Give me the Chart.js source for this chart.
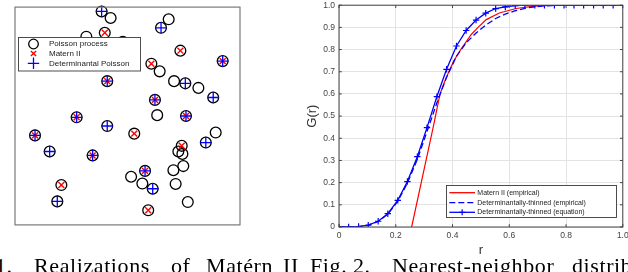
<!DOCTYPE html>
<html>
<head>
<meta charset="utf-8">
<script src="https://cdn.jsdelivr.net/npm/chart.js@4.4.1/dist/chart.umd.min.js"></script>
<style>
html,body{margin:0;padding:0;background:#fff;}
#wrap{position:relative;width:628px;height:272px;overflow:hidden;background:#fff;}
.cap{position:absolute;top:255px;font-family:"Liberation Serif","Times New Roman",serif;font-size:22px;line-height:22px;color:#000;white-space:nowrap;letter-spacing:0.6px;}
</style>
</head>
<body>
<div id="wrap">
  <canvas id="c1" width="250" height="232" style="position:absolute;left:0;top:0;"></canvas>
  <canvas id="c2" width="338" height="272" style="position:absolute;left:290px;top:0;"></canvas>
  <span class="cap" style="left:-5px">1.</span>
  <span class="cap" style="left:34px">Realizations</span>
  <span class="cap" style="left:171px">of</span>
  <span class="cap" style="left:206px">Matérn</span>
  <span class="cap" style="left:283px">II</span>
  <span class="cap" style="left:310px">Fig.</span>
  <span class="cap" style="left:353px">2.</span>
  <span class="cap" style="left:392px">Nearest-neighbor</span>
  <span class="cap" style="left:572px">distrib</span>
</div>
<script>
// ---------- Left panel: point realizations (unit square) ----------
const poissonX = [0.385,0.425,0.399,0.317,0.479,0.410,0.274,0.683,0.649,0.735,0.923,0.606,0.643,0.707,0.757,0.815,0.881,0.622,0.632,0.760,0.410,0.089,0.154,0.345,0.206,0.188,0.530,0.892,0.848,0.741,0.726,0.744,0.578,0.748,0.704,0.516,0.566,0.612,0.714,0.768,0.592];
const poissonY = [0.980,0.950,0.882,0.864,0.841,0.660,0.494,0.944,0.905,0.800,0.752,0.740,0.705,0.660,0.650,0.629,0.585,0.574,0.504,0.500,0.454,0.411,0.337,0.319,0.183,0.108,0.419,0.424,0.378,0.363,0.337,0.326,0.248,0.270,0.251,0.221,0.190,0.166,0.188,0.105,0.067];
const maternX = [0.399,0.410,0.274,0.735,0.923,0.606,0.622,0.760,0.089,0.345,0.206,0.530,0.741,0.578,0.592];
const maternY = [0.882,0.660,0.494,0.800,0.752,0.740,0.574,0.500,0.411,0.319,0.183,0.419,0.363,0.248,0.067];
const detX = [0.385,0.410,0.274,0.649,0.923,0.757,0.881,0.622,0.760,0.410,0.089,0.154,0.345,0.188,0.848,0.578,0.612];
const detY = [0.980,0.660,0.494,0.905,0.752,0.650,0.585,0.574,0.500,0.454,0.411,0.337,0.319,0.108,0.378,0.248,0.166];
const leftLegend = ["Poisson process","Matern II","Determinantal Poisson"];

// ---------- Right panel: nearest-neighbour distribution G(r) ----------
const rEq = [0,0.034,0.069,0.103,0.138,0.172,0.207,0.241,0.276,0.310,0.345,0.379,0.414,0.448,0.483,0.517,0.552,0.586,0.621,0.655,0.690,0.724,0.759,0.793,0.828,0.862,0.897,0.931,0.966,1.0];
const gEq = [0,0,0.002,0.008,0.026,0.060,0.120,0.205,0.317,0.448,0.588,0.711,0.816,0.886,0.933,0.964,0.985,0.992,0.998,1,1,1,1,1,1,1,1,1,1,1];
const gDetEmp = [0,0,0.002,0.008,0.025,0.058,0.116,0.198,0.305,0.430,0.560,0.675,0.770,0.830,0.875,0.910,0.940,0.960,0.975,0.986,0.993,0.997,0.999,1,1,1,1,1,1,1];
const rMat = [0.256,0.332,0.356,0.372,0.387,0.405,0.429,0.466,0.490,0.519,0.565,0.624,0.680,0.750,1.0];
const gMat = [0,0.450,0.600,0.655,0.700,0.750,0.800,0.868,0.900,0.935,0.965,0.985,0.995,1,1];
const xTicks = [0,0.2,0.4,0.6,0.8,1];
const yTicks = [0,0.1,0.2,0.3,0.4,0.5,0.6,0.7,0.8,0.9,1];
const rightLegend = ["Matern II (empirical)","Determinantally-thinned (empirical)","Determinantally-thinned (equation)"];

const zip = (xs, ys) => xs.map((x, i) => ({x: x, y: ys[i]}));

function plusMark(ctx, x, y, r){ctx.beginPath();ctx.moveTo(x-r,y);ctx.lineTo(x+r,y);ctx.moveTo(x,y-r);ctx.lineTo(x,y+r);ctx.stroke();}
function xMark(ctx, x, y, r){ctx.beginPath();ctx.moveTo(x-r,y-r);ctx.lineTo(x+r,y+r);ctx.moveTo(x-r,y+r);ctx.lineTo(x+r,y-r);ctx.stroke();}

const leftDecor = {
  id: 'leftDecor',
  afterDraw(chart){
    const ctx = chart.ctx, a = chart.chartArea;
    ctx.save();
    ctx.strokeStyle = '#7a7a7a'; ctx.lineWidth = 1.2;
    ctx.strokeRect(a.left, a.top, a.right - a.left, a.bottom - a.top);
    // legend
    ctx.fillStyle = '#fff'; ctx.fillRect(18.5, 37.5, 122, 33.5);
    ctx.strokeStyle = '#3a3a3a'; ctx.lineWidth = 0.9;
    ctx.strokeRect(18.5, 37.5, 122, 33.5);
    const ys = [44, 53.5, 63.3];
    ctx.strokeStyle = '#000'; ctx.lineWidth = 1.3;
    ctx.beginPath(); ctx.arc(33.5, ys[0], 4.8, 0, Math.PI*2); ctx.stroke();
    ctx.strokeStyle = '#ff0000'; ctx.lineWidth = 1.4; xMark(ctx, 33.5, ys[1], 2.6);
    ctx.strokeStyle = '#0000ff'; ctx.lineWidth = 1.3; plusMark(ctx, 33.5, ys[2], 5.7);
    ctx.fillStyle = '#222'; ctx.font = '8px "Liberation Sans", Arial, sans-serif';
    ctx.textBaseline = 'middle'; ctx.textAlign = 'left';
    leftLegend.forEach((t, i) => ctx.fillText(t, 49, ys[i]));
    ctx.restore();
  }
};

new Chart(document.getElementById('c1'), {
  type: 'scatter',
  data: {
    datasets: [
      {label: leftLegend[0], data: zip(poissonX, poissonY), pointStyle: 'circle', pointRadius: 5.4, pointBorderWidth: 1.3, pointBorderColor: '#000', pointBackgroundColor: 'rgba(0,0,0,0)', order: 3, clip: false},
      {label: leftLegend[1], data: zip(maternX, maternY), pointStyle: 'crossRot', pointRadius: 4.2, pointBorderWidth: 1.4, pointBorderColor: '#ff0000', pointBackgroundColor: 'rgba(0,0,0,0)', order: 2, clip: false},
      {label: leftLegend[2], data: zip(detX, detY), pointStyle: 'cross', pointRadius: 5.8, pointBorderWidth: 1.3, pointBorderColor: '#0000ff', pointBackgroundColor: 'rgba(0,0,0,0)', order: 1, clip: false}
    ]
  },
  options: {
    responsive: false, animation: false, events: [],
    layout: {padding: {left: 15, right: 10, top: 2.7, bottom: 4.7}},
    plugins: {legend: {display: false}, tooltip: {enabled: false}},
    scales: {
      x: {type: 'linear', min: 0, max: 1, display: false},
      y: {type: 'linear', min: 0, max: 1, display: false}
    }
  },
  plugins: [leftDecor]
});

const rightDecor = {
  id: 'rightDecor',
  afterDraw(chart){
    const ctx = chart.ctx, a = chart.chartArea;
    const sx = chart.scales.x, sy = chart.scales.y;
    ctx.save();
    ctx.strokeStyle = '#444'; ctx.lineWidth = 1;
    ctx.strokeRect(a.left, a.top, a.right - a.left, a.bottom - a.top);
    const tl = 2.8;
    ctx.beginPath();
    xTicks.forEach(v => { const p = sx.getPixelForValue(v); ctx.moveTo(p, a.bottom); ctx.lineTo(p, a.bottom - tl); ctx.moveTo(p, a.top); ctx.lineTo(p, a.top + tl); });
    yTicks.forEach(v => { const p = sy.getPixelForValue(v); ctx.moveTo(a.left, p); ctx.lineTo(a.left + tl, p); ctx.moveTo(a.right, p); ctx.lineTo(a.right - tl, p); });
    ctx.stroke();
    // legend (positions in canvas coords; canvas starts at x=290)
    const L = 446.5 - 290, T = 185.5, W = 170, H = 32;
    ctx.fillStyle = '#fff'; ctx.fillRect(L, T, W, H);
    ctx.strokeStyle = '#3a3a3a'; ctx.lineWidth = 0.9; ctx.strokeRect(L, T, W, H);
    const ys = [192.7, 202.6, 212.3];
    const x0 = 449.3 - 290, x1 = 475 - 290;
    ctx.lineWidth = 1.3;
    ctx.strokeStyle = '#ff0000'; ctx.beginPath(); ctx.moveTo(x0, ys[0]); ctx.lineTo(x1, ys[0]); ctx.stroke();
    ctx.strokeStyle = '#0000ff'; ctx.setLineDash([6,3]); ctx.beginPath(); ctx.moveTo(x0, ys[1]); ctx.lineTo(x1, ys[1]); ctx.stroke();
    ctx.setLineDash([]); ctx.beginPath(); ctx.moveTo(x0, ys[2]); ctx.lineTo(x1, ys[2]); ctx.stroke();
    ctx.lineWidth = 1.2; plusMark(ctx, (x0 + x1) / 2, ys[2], 3);
    ctx.fillStyle = '#222'; ctx.font = '7px "Liberation Sans", Arial, sans-serif';
    ctx.textBaseline = 'middle'; ctx.textAlign = 'left';
    rightLegend.forEach((t, i) => ctx.fillText(t, 477.3 - 290, ys[i]));
    ctx.restore();
  }
};

const tickFont = {family: '"Liberation Sans", Arial, sans-serif', size: 8.5};
new Chart(document.getElementById('c2'), {
  type: 'line',
  data: {
    datasets: [
      {label: rightLegend[2], data: zip(rEq, gEq), borderColor: '#0000ff', borderWidth: 1.3, pointStyle: 'cross', pointRadius: 3.2, pointBorderWidth: 1.2, pointBorderColor: '#0000ff', tension: 0, order: 1},
      {label: rightLegend[1], data: zip(rEq, gDetEmp), borderColor: '#0000ff', borderWidth: 1.3, borderDash: [6,3], pointRadius: 0, tension: 0, order: 2},
      {label: rightLegend[0], data: zip(rMat, gMat), borderColor: '#ff0000', borderWidth: 1.2, pointRadius: 0, tension: 0, order: 3}
    ]
  },
  options: {
    responsive: false, animation: false, events: [],
    layout: {padding: {left: 0, right: 4, top: 4, bottom: 0}},
    plugins: {legend: {display: false}, tooltip: {enabled: false}},
    scales: {
      x: {
        type: 'linear', min: 0, max: 1,
        afterBuildTicks: s => { s.ticks = xTicks.map(v => ({value: v})); },
        afterFit: s => { s.height = 45; s.paddingLeft = 0; s.paddingRight = 0; },
        grid: {color: '#e3e3e3', lineWidth: 1, drawTicks: false},
        border: {display: false},
        ticks: {font: tickFont, color: '#444', padding: 4, maxRotation: 0},
        title: {display: true, text: 'r', font: {family: '"Liberation Sans", Arial, sans-serif', size: 13}, color: '#333', padding: {top: 0, bottom: 13.7}}
      },
      y: {
        type: 'linear', min: 0, max: 1,
        afterBuildTicks: s => { s.ticks = yTicks.map(v => ({value: v})); },
        afterFit: s => { s.width = 49; s.paddingTop = 0; s.paddingBottom = 0; },
        grid: {color: '#e3e3e3', lineWidth: 1, drawTicks: false},
        border: {display: false},
        ticks: {font: tickFont, color: '#444', padding: 4},
        title: {display: true, text: 'G(r)', font: {family: '"Liberation Sans", Arial, sans-serif', size: 13}, color: '#333', padding: {top: 14.7, bottom: 0}}
      }
    }
  },
  plugins: [rightDecor]
});
</script>
</body>
</html>
